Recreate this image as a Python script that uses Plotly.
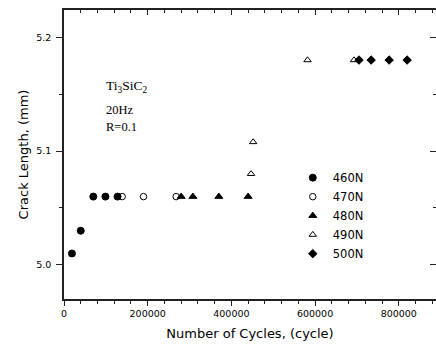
import plotly.graph_objects as go

# Data
x_460 = [19000, 40000, 70000, 99000, 128000]
y_460 = [5.010, 5.030, 5.060, 5.060, 5.060]
x_470 = [139000, 190000, 268000]
y_470 = [5.060, 5.060, 5.060]
x_480 = [280000, 308000, 370000, 440000]
y_480 = [5.060, 5.060, 5.060, 5.060]
x_490 = [447000, 452000, 582000, 693000]
y_490 = [5.080, 5.108, 5.180, 5.180]
x_500 = [705000, 734000, 777000, 820000]
y_500 = [5.180, 5.180, 5.180, 5.180]

series = [
    ("460N", x_460, y_460, "circle", 7),
    ("470N", x_470, y_470, "circle-open", 6.5),
    ("480N", x_480, y_480, "triangle-up", 7),
    ("490N", x_490, y_490, "triangle-up-open", 6.5),
    ("500N", x_500, y_500, "diamond", 6.5),
]

X_RANGE = [0, 889000]
Y_RANGE = [4.970, 5.224]
FONT = "DejaVu Sans, Arial, sans-serif"
AX = "#222222"

fig = go.Figure()
for name, xs, ys, sym, sz in series:
    fig.add_trace(go.Scatter(
        x=xs, y=ys, mode="markers", name=name,
        marker=dict(symbol=sym, size=sz, color="black",
                    line=dict(color="black", width=1)),
    ))
# helper trace for mirrored top/right axes
fig.add_trace(go.Scatter(x=[None], y=[None], xaxis="x2", yaxis="y2",
                         showlegend=False, hoverinfo="skip"))

fig.update_layout(
    width=436, height=345,
    margin=dict(l=64, r=0, t=10, b=46),
    paper_bgcolor="white", plot_bgcolor="white",
    font=dict(family=FONT, color="black"),
    showlegend=True,
    legend=dict(x=0.615, y=0.47, xanchor="left", yanchor="top",
                bgcolor="rgba(0,0,0,0)", font=dict(size=11.5, family=FONT),
                itemwidth=30, tracegroupgap=0),
    xaxis=dict(range=X_RANGE, showgrid=False, zeroline=False,
               showline=True, linecolor=AX, linewidth=1.5,
               ticks="outside", ticklen=5, tickwidth=1.2, tickcolor=AX,
               tick0=0, dtick=200000, tickformat="d",
               tickfont=dict(size=9.5, family=FONT),
               minor=dict(ticks="outside", ticklen=3, dtick=40000, tick0=0,
                          tickcolor=AX, tickwidth=1.2),
               title=dict(text="Number of Cycles, (cycle)",
                          font=dict(size=13, family=FONT), standoff=11)),
    yaxis=dict(range=Y_RANGE, showgrid=False, zeroline=False,
               showline=True, linecolor=AX, linewidth=1.5,
               ticks="outside", ticklen=6, tickwidth=1.2, tickcolor=AX,
               tick0=5.0, dtick=0.1, tickformat=".1f",
               tickfont=dict(size=9.5, family=FONT),
               ticklabelstandoff=3,
               minor=dict(ticks="outside", ticklen=3, dtick=0.05, tick0=5.0,
                          tickcolor=AX, tickwidth=1.2),
               title=dict(text="Crack Length, (mm)",
                          font=dict(size=13, family=FONT), standoff=5)),
    xaxis2=dict(range=X_RANGE, overlaying="x", side="top", anchor="y2",
                showgrid=False, zeroline=False, showline=True,
                linecolor=AX, linewidth=1.5, showticklabels=False,
                ticks="inside", ticklen=5, tickwidth=1.2, tickcolor=AX,
                tick0=0, dtick=200000,
                minor=dict(ticks="inside", ticklen=3, dtick=40000, tick0=0,
                           tickcolor=AX, tickwidth=1.2)),
    yaxis2=dict(range=Y_RANGE, overlaying="y", side="right", anchor="x2",
                showgrid=False, zeroline=False, showline=True,
                linecolor=AX, linewidth=1.5, showticklabels=False,
                ticks="inside", ticklen=6, tickwidth=1.2, tickcolor=AX,
                tick0=5.0, dtick=0.1,
                minor=dict(ticks="inside", ticklen=3, dtick=0.05, tick0=5.0,
                           tickcolor=AX, tickwidth=1.2)),
)

SERIF = "Liberation Serif, Times New Roman, serif"
notes = [("Ti<sub>3</sub>SiC<sub>2</sub>", 5.157, 13.5),
         ("20Hz", 5.136, 12.5),
         ("R=0.1", 5.121, 12.5)]
for txt, yv, fs in notes:
    fig.add_annotation(x=95600, y=yv, xref="x", yref="y", text=txt,
                       showarrow=False, xanchor="left", yanchor="middle",
                       font=dict(family=SERIF, size=fs, color="black"))

fig.write_html("out.html")
